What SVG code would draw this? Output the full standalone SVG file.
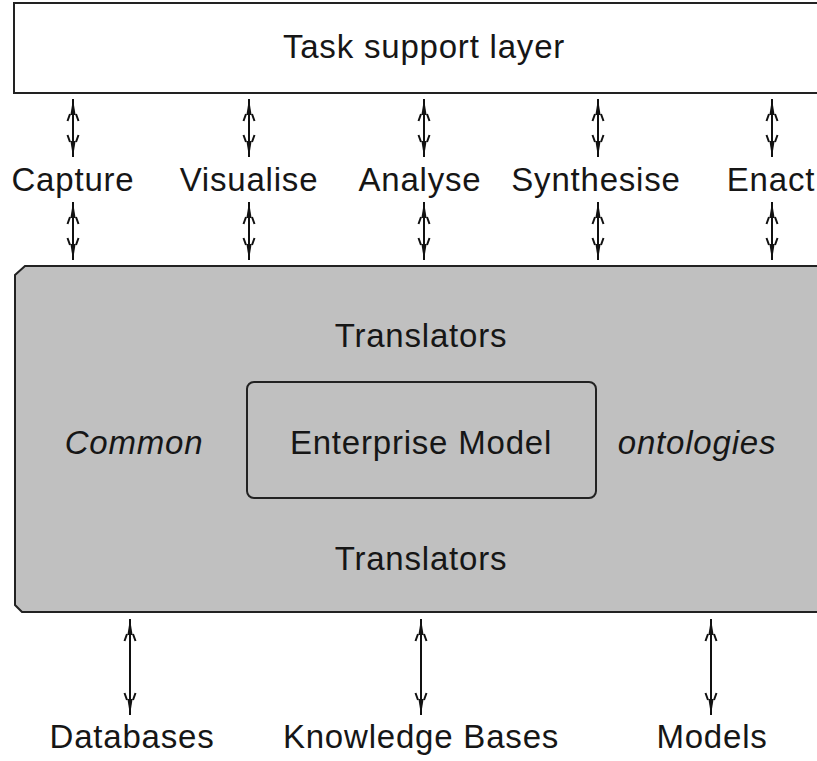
<svg xmlns="http://www.w3.org/2000/svg" width="817" height="761" viewBox="0 0 817 761">
  <style>
    .lbl { font-family: "Liberation Sans", Arial, sans-serif; font-size: 33px; fill: #161616; text-anchor: middle; letter-spacing: 0.8px; }
    .it { font-style: italic; }
    .box { fill: #ffffff; stroke: #222; stroke-width: 2; }
    .panel { fill: #c0c0c0; stroke: #222; stroke-width: 2; }
    .inner { fill: none; stroke: #222; stroke-width: 2; }
    .conn { stroke: #111; stroke-width: 2; fill: none; }
  </style>
  <defs>
    <!-- double-ended arrowhead: dark narrow tip with two short barbs behind it -->
    <marker id="head" viewBox="-26 -9 28 18" refX="0" refY="0" markerWidth="28" markerHeight="18" markerUnits="userSpaceOnUse" orient="auto-start-reverse">
      <path d="M0,0 L-16,-2.6 L-16,2.6 Z" fill="#111"/>
      <path d="M-22,-5.5 L-15,-3 M-22,5.5 L-15,3" stroke="#111" stroke-width="2" fill="none"/>
    </marker>
  </defs>

  <rect width="817" height="761" fill="#ffffff"/>

  <!-- top layer -->
  <g id="task-layer">
    <rect class="box" x="14" y="3" width="830" height="90"/>
    <text class="lbl" x="424" y="58">Task support layer</text>
  </g>

  <!-- task labels -->
  <g id="capture"><text class="lbl" x="73" y="191">Capture</text></g>
  <g id="visualise"><text class="lbl" x="249" y="191">Visualise</text></g>
  <g id="analyse"><text class="lbl" x="420" y="191">Analyse</text></g>
  <g id="synthesise"><text class="lbl" x="596" y="191">Synthesise</text></g>
  <g id="enact"><text class="lbl" x="771" y="191">Enact</text></g>

  <!-- shared model panel -->
  <g id="model-panel">
    <path class="panel" d="M25,266 L850,266 L850,612 L22,612 L15,605 L15,275 Z"/>
    <text class="lbl" x="421" y="347">Translators</text>
    <text class="lbl it" x="134" y="454">Common</text>
    <text class="lbl it" x="697" y="454">ontologies</text>
    <text class="lbl" x="421" y="570">Translators</text>
  </g>

  <g id="enterprise-model">
    <rect class="inner" x="247" y="382" width="349" height="116" rx="7"/>
    <text class="lbl" x="421" y="454">Enterprise Model</text>
  </g>

  <!-- sources -->
  <g id="databases"><text class="lbl" x="132" y="748">Databases</text></g>
  <g id="knowledge-bases"><text class="lbl" x="421" y="748">Knowledge Bases</text></g>
  <g id="models"><text class="lbl" x="712" y="748">Models</text></g>

  <!-- connectors -->
  <g id="connectors" class="conn">
    <line x1="73" y1="99" x2="73" y2="157" marker-start="url(#head)" marker-end="url(#head)"/>
    <line x1="249" y1="99" x2="249" y2="157" marker-start="url(#head)" marker-end="url(#head)"/>
    <line x1="424" y1="99" x2="424" y2="157" marker-start="url(#head)" marker-end="url(#head)"/>
    <line x1="598" y1="99" x2="598" y2="157" marker-start="url(#head)" marker-end="url(#head)"/>
    <line x1="772" y1="99" x2="772" y2="157" marker-start="url(#head)" marker-end="url(#head)"/>

    <line x1="73" y1="202" x2="73" y2="260" marker-start="url(#head)" marker-end="url(#head)"/>
    <line x1="249" y1="202" x2="249" y2="260" marker-start="url(#head)" marker-end="url(#head)"/>
    <line x1="424" y1="202" x2="424" y2="260" marker-start="url(#head)" marker-end="url(#head)"/>
    <line x1="598" y1="202" x2="598" y2="260" marker-start="url(#head)" marker-end="url(#head)"/>
    <line x1="772" y1="202" x2="772" y2="260" marker-start="url(#head)" marker-end="url(#head)"/>

    <line x1="130" y1="619" x2="130" y2="715" marker-start="url(#head)" marker-end="url(#head)"/>
    <line x1="421" y1="619" x2="421" y2="715" marker-start="url(#head)" marker-end="url(#head)"/>
    <line x1="711" y1="619" x2="711" y2="715" marker-start="url(#head)" marker-end="url(#head)"/>
  </g>
</svg>
